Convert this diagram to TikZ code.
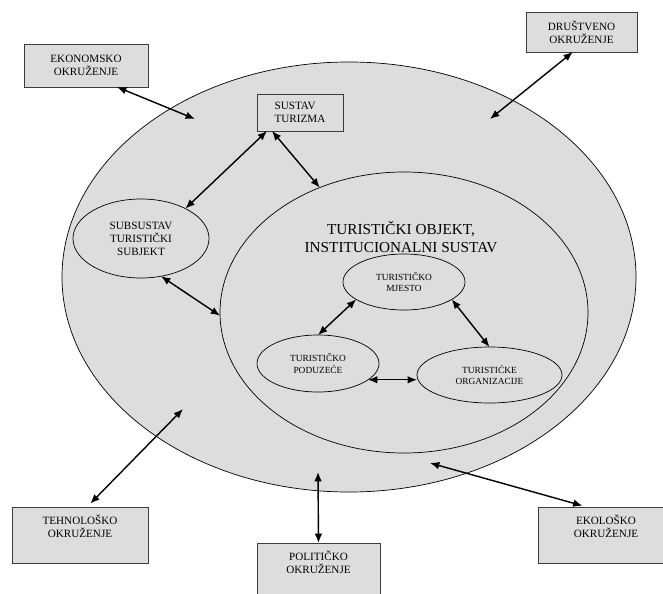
\documentclass[tikz,border=0pt]{standalone}
\usepackage{fontspec}
\setmainfont{Liberation Serif}
\usetikzlibrary{shapes.geometric,arrows.meta,positioning,calc}

\definecolor{okolinagray}{RGB}{221,221,221}
\definecolor{rubgray}{RGB}{60,60,60}

\begin{document}
\begin{tikzpicture}[
    x=0.03cm, y=-0.03cm,
    krug/.style={ellipse, draw, fill=okolinagray, line width=0.6pt, inner sep=0pt, outer sep=0pt},
    podsustav/.style={krug, align=center, font=\fontsize{8}{9.5}\selectfont},
    okvir/.style={rectangle, draw=rubgray, fill=okolinagray, line width=0.6pt, align=center, inner sep=0pt, outer sep=0pt, font=\fontsize{9.5}{11}\selectfont},
    arrow/.style={<->, >={Latex[length=8pt,width=6.5pt]}, line width=1.2pt}
]
    \clip (0,0) rectangle (663,594);

    % okruzenje i turisticki objekt
    \node[krug, minimum width=17.22cm, minimum height=12.9cm] (okolina) at (349,277) {};
    \node[krug, minimum width=11.04cm, minimum height=8.43cm] (objekt) at (404,312.5) {};
    \node[align=center, font=\fontsize{13}{16}\selectfont] (naslov) at (401,237) {TURISTIČKI OBJEKT,\\INSTITUCIONALNI SUSTAV};

    \node[podsustav, minimum width=3.66cm, minimum height=1.68cm] (mjesto) at (404,282) {TURISTIČKO\\MJESTO};
    \node[podsustav, minimum width=3.66cm, minimum height=1.71cm] (poduzece) at (318,363.5) {TURISTIČKO\\PODUZEĆE};
    \node[podsustav, minimum width=4.35cm, minimum height=1.68cm] (organizacije) at (489.5,375) {TURISTIĆKE\\ORGANIZACIJE};
    \node[krug, align=center, font=\fontsize{9.5}{11}\selectfont, minimum width=4.08cm, minimum height=2.37cm] (subsustav) at (141,238.5) {SUBSUSTAV\\TURISTIČKI\\SUBJEKT};

    \node[okvir, align=left, minimum width=2.58cm, minimum height=1.11cm] (sustav) at (300,112.5) {SUSTAV\\TURIZMA};

    % okruzenja
    \node[okvir, minimum width=3.72cm, minimum height=1.29cm] (ekonomsko) at (86,65.5) {EKONOMSKO\\OKRUŽENJE};
    \node[okvir, minimum width=3.33cm, minimum height=1.2cm] (drustveno) at (581.5,32) {DRUŠTVENO\\OKRUŽENJE};
    \node[okvir, minimum width=4.08cm, minimum height=1.68cm] (tehnolosko) at (80,535) {TEHNOLOŠKO\\OKRUŽENJE\\[4pt]\mbox{}};
    \node[okvir, minimum width=4.08cm, minimum height=1.68cm] (ekolosko) at (606,535) {EKOLOŠKO\\OKRUŽENJE\\[4pt]\mbox{}};
    \node[okvir, minimum width=3.69cm, minimum height=1.68cm] (politicko) at (318.5,571) {POLITIČKO\\OKRUŽENJE\\[4pt]\mbox{}};

    \coordinate (e1) at (195,119);
    \coordinate (d1) at (490,119);
    \coordinate (t1) at (183,409);
    \coordinate (p1) at (318,472);
    \coordinate (k1) at (430,463);

    % veze s okruzenjem
    \draw[arrow] ([xshift=0.93cm]ekonomsko.south) -- (e1);
    \draw[arrow] ([xshift=-0.26cm]drustveno.south) -- (d1);
    \draw[arrow, shorten >=4pt] (t1) -- ([xshift=0.21cm]tehnolosko.north);
    \draw[arrow] (p1) -- (politicko.north);
    \draw[arrow, shorten >=4pt] (k1) -- ([xshift=-0.57cm]ekolosko.north);

    % veze unutar sustava
    \draw[arrow] ([xshift=0.3cm]sustav.south west) -- (subsustav.34);
    \draw[arrow] ([xshift=0.45cm]sustav.south west) -- (objekt.124);
    \draw[arrow] (subsustav.298) -- (objekt.181);
    \draw[arrow] (mjesto.200) -- (poduzece.north);
    \draw[arrow] (mjesto.340) -- (organizacije.north);
    \draw[arrow] (poduzece.342) -- (poduzece.342 -| organizacije.west);
\end{tikzpicture}
\end{document}
